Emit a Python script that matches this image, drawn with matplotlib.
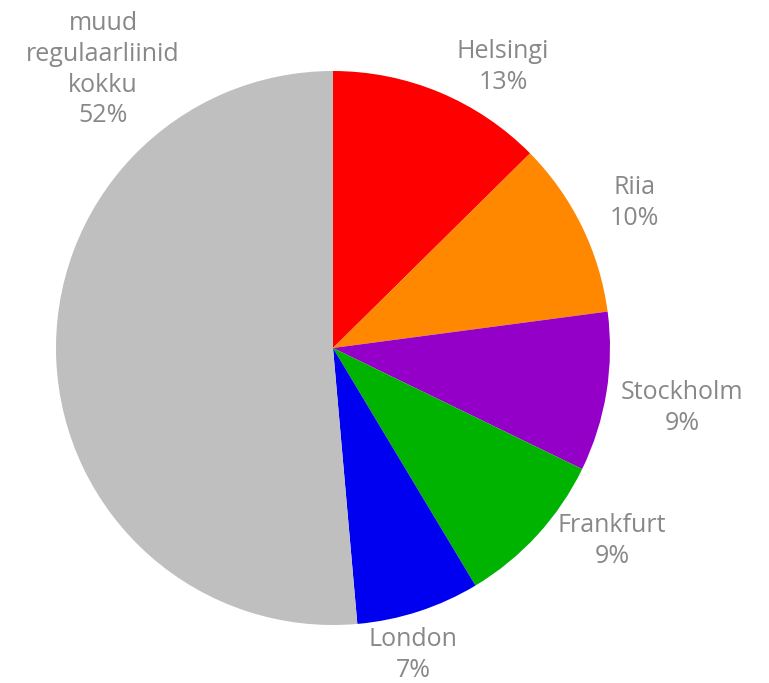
import matplotlib
matplotlib.use('Agg')
import matplotlib.pyplot as plt

# slice shares (%), clockwise from the top
names = ['Helsingi', 'Riia', 'Stockholm', 'Frankfurt', 'London',
         'muud\nregulaarliinid\nkokku']
shares = [12.6, 10.3, 9.3, 9.2, 7.2, 51.4]
pct_labels = ['13%', '10%', '9%', '9%', '7%', '52%']
colors = ['#ff0000', '#ff8800', '#9400c8', '#00b300', '#0000f0', '#bfbfbf']

# label centres in pie-radius units (pie centre = 0, 0)
label_pos = [(0.614, 1.014), (1.087, 0.523), (1.260, -0.217),
             (1.007, -0.697), (0.289, -1.108), (-0.830, 1.004)]

W, H = 769, 683
cx, cy, rad = 333, 348, 277

fig = plt.figure(figsize=(W / 100, H / 100), dpi=100)
ax = fig.add_axes([0, 0, 1, 1])
ax.pie(shares, colors=colors, startangle=90, counterclock=False,
       radius=1, wedgeprops={'linewidth': 0})
ax.set_xlim(-cx / rad, (W - cx) / rad)
ax.set_ylim((cy - H) / rad, cy / rad)
ax.set_aspect('auto')
ax.axis('off')

for name, pct, (x, y) in zip(names, pct_labels, label_pos):
    ax.text(x, y, name + '\n' + pct, ha='center', va='center',
            fontsize=18, color='#888888', family='Open Sans',
            linespacing=1.3)

fig.savefig('out.png', dpi=100)
